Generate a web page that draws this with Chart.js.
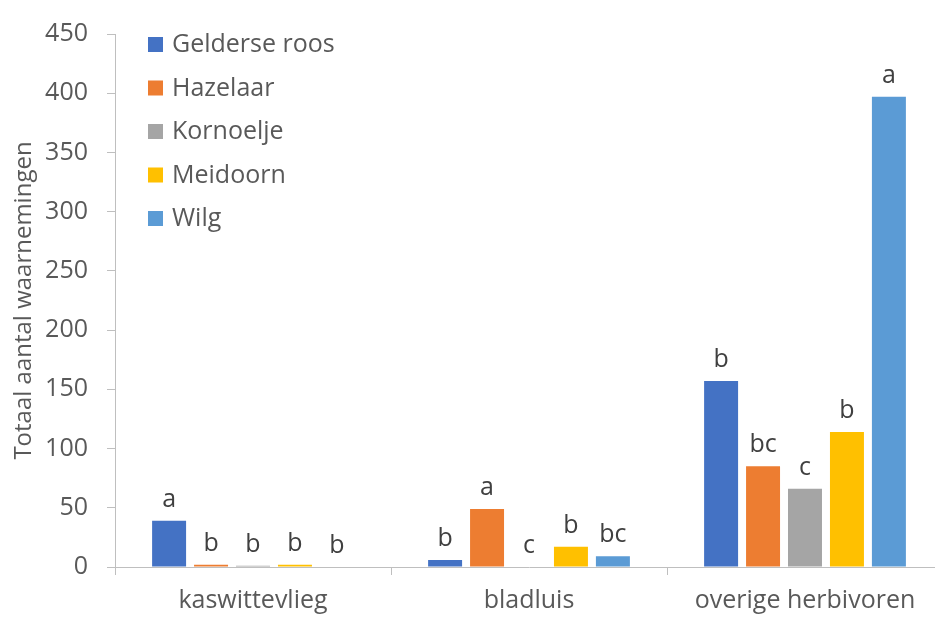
<!doctype html>
<html lang="nl">
  <head>
    <meta charset="utf-8">
    <title>Totaal aantal waarnemingen</title>
    <style>
      * { margin: 0; padding: 0; }
      body { background: #ffffff; overflow: hidden; width: 935px; height: 618px; }
      #myChart { display: block; }
    </style>
  </head>
  <body>
    <canvas id="myChart" width="945" height="618"></canvas>
    <script src="https://cdn.jsdelivr.net/npm/chart.js"></script>
    <script>
    // data
    const categories = ['kaswittevlieg', 'bladluis', 'overige herbivoren'];
    const species = ['Gelderse roos', 'Hazelaar', 'Kornoelje', 'Meidoorn', 'Wilg'];
    const colors = ['#4472C4', '#ED7D31', '#A5A5A5', '#FFC000', '#5B9BD5'];
    const gelderseRoos = [39, 6, 157];
    const hazelaar = [2, 49, 85];
    const kornoelje = [1, 0, 66];
    const meidoorn = [2, 17, 114];
    const wilg = [0, 9, 397];
    const letters = [
      ['a', 'b', 'b'],
      ['b', 'a', 'bc'],
      ['b', 'c', 'c'],
      ['b', 'b', 'b'],
      ['b', 'bc', 'a']
    ];
    const yTicks = [0, 50, 100, 150, 200, 250, 300, 350, 400, 450];

    const FONT = "'Open Sans', sans-serif";
    const TEXT = '#595959';

    const seriesValues = [gelderseRoos, hazelaar, kornoelje, meidoorn, wilg];
    const data = {
      labels: categories,
      datasets: species.map((name, i) => ({
        label: name,
        data: seriesValues[i],
        backgroundColor: colors[i],
        borderWidth: 0,
        categoryPercentage: 0.76,
        barPercentage: 0.81
      }))
    };

    // letters above bars + legend in the plot
    const extras = {
      id: 'extras',
      afterDatasetsDraw(chart) {
        const ctx = chart.ctx;
        ctx.save();
        ctx.font = '25px ' + FONT;
        ctx.fillStyle = '#404040';
        ctx.textAlign = 'center';
        ctx.textBaseline = 'alphabetic';
        chart.data.datasets.forEach((ds, i) => {
          chart.getDatasetMeta(i).data.forEach((bar, j) => {
            ctx.fillText(letters[i][j], bar.x, bar.y - 14);
          });
        });
        // legend
        ctx.font = '25px ' + FONT;
        ctx.textAlign = 'left';
        ctx.textBaseline = 'middle';
        chart.data.datasets.forEach((ds, i) => {
          const y = 44 + i * 43.5;
          ctx.fillStyle = ds.backgroundColor;
          ctx.fillRect(148, y - 7, 15, 15);
          ctx.fillStyle = TEXT;
          ctx.fillText(ds.label, 172, y + 1);
        });
        ctx.restore();
      }
    };

    const config = {
      type: 'bar',
      data,
      options: {
        responsive: false,
        animation: false,
        layout: { padding: { top: 24, right: 2, left: 0, bottom: 0 } },
        plugins: {
          legend: { display: false },
          tooltip: { enabled: false }
        },
        scales: {
          x: {
            grid: { display: true, drawOnChartArea: false, tickLength: 8, color: '#bfbfbf', offset: true },
            border: { color: '#bfbfbf', width: 1 },
            ticks: { color: TEXT, font: { family: FONT, size: 25 }, padding: 11, maxRotation: 0 },
            afterFit(scale) { scale.height = 51; }
          },
          y: {
            min: 0,
            max: 450,
            afterBuildTicks(scale) { scale.ticks = yTicks.map(v => ({ value: v })); },
            grid: { display: true, drawOnChartArea: false, tickLength: 8, color: '#bfbfbf' },
            border: { color: '#bfbfbf', width: 1 },
            ticks: { color: TEXT, font: { family: FONT, size: 25 }, padding: 19 },
            title: {
              display: true,
              text: 'Totaal aantal waarnemingen',
              color: TEXT,
              font: { family: FONT, size: 24 },
              padding: { top: 10, bottom: 0 }
            },
            afterFit(scale) { scale.width = 115; }
          }
        }
      },
      plugins: [extras]
    };

    const myChart = new Chart(document.getElementById('myChart'), config);
    </script>
  </body>
</html>
